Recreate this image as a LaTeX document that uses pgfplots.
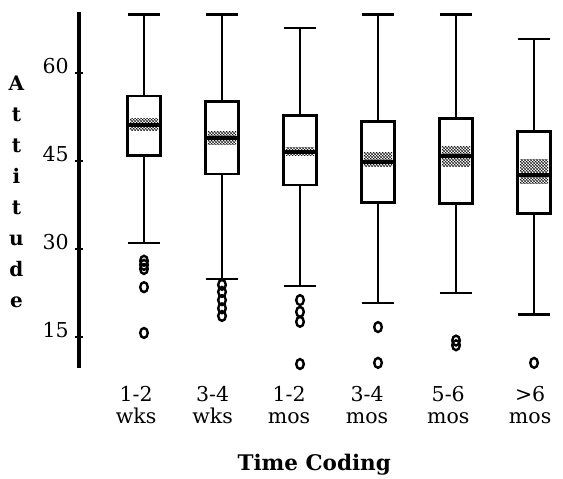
\documentclass[border=0pt]{standalone}
\usepackage{pgfplots}
\pgfplotsset{compat=1.18}
\usepgfplotslibrary{statistics}
\usepackage{fontspec}
\setmainfont{DejaVu Serif}
\usetikzlibrary{patterns}

% style of the shaded band round each median
\pgfplotsset{
  ciband/.style={
    boxplot/draw direction=y,
    boxplot/box extend=0.36,
    boxplot/every box/.style={draw=none, pattern=crosshatch, pattern color=black},
    boxplot/every whisker/.style={draw=none},
    boxplot/every median/.style={draw=none},
  },
  mainbox/.style={
    black, line width=2.8pt, mark=o,
    mark options={line width=2.4pt, yscale=1.3, mark size=3.8pt},
    boxplot/draw direction=y,
    boxplot/box extend=0.42,
    boxplot/whisker extend=0.42,
    boxplot/every box/.style={line width=2.8pt},
    boxplot/every whisker/.style={line width=2.6pt},
    boxplot/every median/.style={line width=4pt},
  },
}

\begin{document}
\begin{tikzpicture}
\begin{axis}[
  scale only axis,
  width=481pt, height=356pt,
  xmin=0.1667, xmax=6.333,
  ymin=9.72, ymax=70.4,
  clip=false,
  axis lines*=left,
  axis line style={-},
  x axis line style={draw=none},
  y axis line style={line width=3.2pt},
  xtick={0.90,1.88,2.86,3.86,4.90,5.95},
  xticklabels={{1-2\\wks},{3-4\\wks},{1-2\\mos},{3-4\\mos},{5-6\\mos},{>6\\mos}},
  xtick style={draw=none},
  xticklabel style={align=center, anchor=north, inner sep=0pt, yshift=-14pt,
    font=\fontsize{20.5}{22}\selectfont},
  ytick={15,30,45,60},
  yticklabels={15,30,45,60},
  ytick style={line width=2.5pt, black},
  tick align=center,
  major tick length=8pt,
  yticklabel style={anchor=base east, inner sep=0pt, xshift=-6pt,
    font=\fontsize{20.5}{22}\selectfont},
  /pgf/number format/assume math mode=true,
  ylabel={A\\t\\t\\i\\t\\u\\d\\e},
  ylabel style={rotate=-90, align=center, anchor=center,
    at={(axis description cs:-0.13,0.496)},
    font=\bfseries\fontsize{20}{31}\selectfont},
  xlabel={Time Coding},
  xlabel style={anchor=base, at={(axis description cs:0.489,-0.287)},
    font=\bfseries\fontsize{21.5}{24}\selectfont},
]
% bands
\addplot[ciband, boxplot prepared={draw position=1, lower whisker=50.2, lower quartile=50.2, median=51.1, upper quartile=52.3, upper whisker=52.3}] coordinates {};
\addplot[ciband, boxplot prepared={draw position=2, lower whisker=47.9, lower quartile=47.9, median=48.9, upper quartile=50.0, upper whisker=50.0}] coordinates {};
\addplot[ciband, boxplot prepared={draw position=3, lower whisker=46.0, lower quartile=46.0, median=46.6, upper quartile=47.3, upper whisker=47.3}] coordinates {};
\addplot[ciband, boxplot prepared={draw position=4, lower whisker=44.0, lower quartile=44.0, median=44.8, upper quartile=46.4, upper whisker=46.4}] coordinates {};
\addplot[ciband, boxplot prepared={draw position=5, lower whisker=44.0, lower quartile=44.0, median=45.9, upper quartile=47.4, upper whisker=47.4}] coordinates {};
\addplot[ciband, boxplot prepared={draw position=6, lower whisker=41.1, lower quartile=41.1, median=42.6, upper quartile=45.2, upper whisker=45.2}] coordinates {};

% boxes with outliers
\addplot[mainbox, boxplot prepared={draw position=1, lower whisker=31.0, lower quartile=46.0, median=51.1, upper quartile=56.1, upper whisker=70.0}]
  table[row sep=\\, y index=0] {28.0\\27.3\\26.6\\23.5\\15.7\\};
\addplot[mainbox, boxplot prepared={draw position=2, lower whisker=24.9, lower quartile=42.8, median=48.9, upper quartile=55.1, upper whisker=70.0}]
  table[row sep=\\, y index=0] {23.9\\22.7\\21.3\\19.9\\18.6\\};
\addplot[mainbox, boxplot prepared={draw position=3, lower whisker=23.7, lower quartile=40.9, median=46.6, upper quartile=52.8, upper whisker=67.7}]
  table[row sep=\\, y index=0] {21.3\\19.3\\17.6\\10.4\\};
\addplot[mainbox, boxplot prepared={draw position=4, lower whisker=20.8, lower quartile=38.0, median=44.8, upper quartile=51.8, upper whisker=70.0}]
  table[row sep=\\, y index=0] {16.7\\10.6\\};
\addplot[mainbox, boxplot prepared={draw position=5, lower whisker=22.5, lower quartile=37.8, median=45.9, upper quartile=52.3, upper whisker=70.0}]
  table[row sep=\\, y index=0] {14.4\\13.6\\};
\addplot[mainbox, boxplot prepared={draw position=6, lower whisker=18.8, lower quartile=36.0, median=42.6, upper quartile=50.0, upper whisker=65.8}]
  table[row sep=\\, y index=0] {10.6\\};

\path (axis description cs:-0.1642,1.0337) rectangle (axis description cs:1.0062,-0.309);
\end{axis}
\end{tikzpicture}
\end{document}
